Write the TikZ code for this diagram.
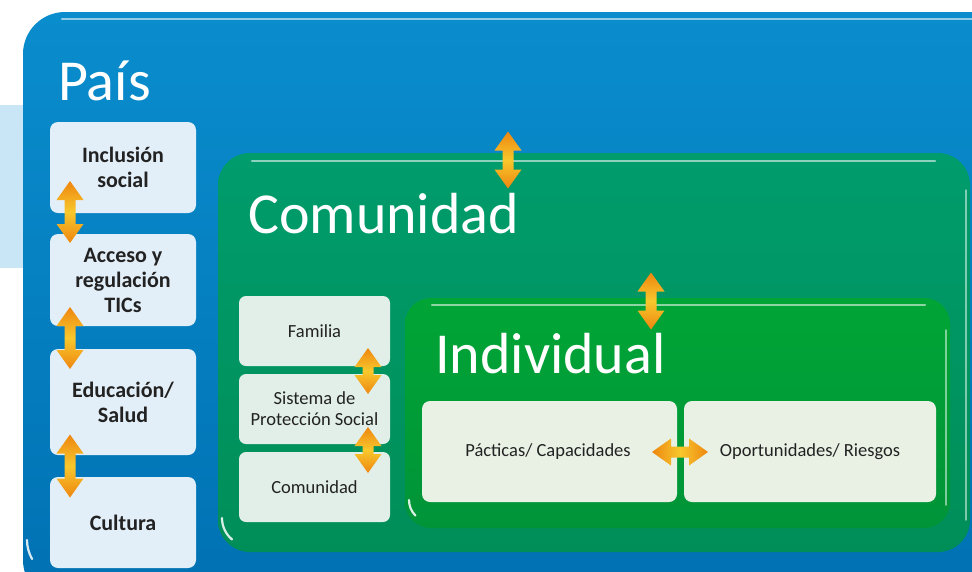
\documentclass[tikz,border=0pt]{standalone}
\usepackage{fontspec}
\setmainfont{Carlito}
\definecolor{paisT}{HTML}{0A8DCD}
\definecolor{paisB}{HTML}{0071B3}
\definecolor{comT}{HTML}{009C6C}
\definecolor{comB}{HTML}{008E58}
\definecolor{indT}{HTML}{00A536}
\definecolor{indB}{HTML}{009438}
\definecolor{lboxc}{HTML}{E3EFF8}
\definecolor{gboxc}{HTML}{E1EFE8}
\definecolor{iboxc}{HTML}{E8F1E4}
\definecolor{bgblue}{HTML}{C9E6F6}
\definecolor{ao}{HTML}{EE8610}
\definecolor{ay}{HTML}{F8C82C}
\definecolor{txt}{HTML}{222222}
\tikzset{
  boxbase/.style={inner sep=0pt, outer sep=0pt, anchor=north west},
  titletext/.style={inner sep=0pt, anchor=base west, text=white, font=\fontsize{58}{60}\selectfont},
  leftbox/.style={boxbase, fill=lboxc, rounded corners=8pt, minimum width=146pt, align=center, text=txt, font=\bfseries\fontsize{22}{25}\selectfont},
  midbox/.style={boxbase, fill=gboxc, rounded corners=7pt, minimum width=151pt, minimum height=70pt, align=center, text=txt, font=\fontsize{18.5}{21}\selectfont},
  innbox/.style={boxbase, fill=iboxc, rounded corners=8pt, minimum height=101pt},
  innertext/.style={inner sep=0pt, text=txt, font=\fontsize{18.5}{21}\selectfont},
  gloss/.style={white, opacity=.55, line width=2.5pt, line cap=round},
  glint/.style={white, opacity=.85, line width=2.2pt, line cap=round},
  vshade/.style={top color=ao, bottom color=ao, middle color=ay},
  hshade/.style={left color=ao, right color=ao, middle color=ay},
}
\newcommand{\vdarrow}[3]{%
  \path[shift={(#1,#2)}, vshade]
  (0,-#3) -- (13.5,-#3+19) -- (5.5,-#3+19) -- (5.5,#3-19) -- (13.5,#3-19) -- (0,#3)
  -- (-13.5,#3-19) -- (-5.5,#3-19) -- (-5.5,-#3+19) -- (-13.5,-#3+19) -- cycle;}
\newcommand{\hdarrow}[3]{%
  \path[shift={(#1,#2)}, hshade]
  (-#3,0) -- (-#3+19,13.5) -- (-#3+19,5.5) -- (#3-19,5.5) -- (#3-19,13.5) -- (#3,0)
  -- (#3-19,-13.5) -- (#3-19,-5.5) -- (-#3+19,-5.5) -- (-#3+19,-13.5) -- cycle;}
\begin{document}
\begin{tikzpicture}[x=1pt,y=-1pt]
\useasboundingbox (0,0) rectangle (972,571);
\clip (0,0) rectangle (972,571);
\fill[white] (0,0) rectangle (972,571);
% light blue band behind
\fill[bgblue] (0,105) rectangle (60,268);
% Pais
\node[boxbase, top color=paisT, bottom color=paisB, rounded corners=42pt, minimum width=990pt, minimum height=590pt] (pais) at (23,12) {};
\draw[gloss] (62,19) -- (1000,19);
\draw[glint] (27,540) arc[start angle=180, end angle=150, radius=38];
\node[titletext] (paist) at (58,100) {País};
% left boxes
\node[leftbox, minimum height=91pt] (inc) at (50,122) {Inclusión\\social};
\node[leftbox, minimum height=92pt] (acc) at (50,234) {Acceso y\\regulación\\TICs};
\node[leftbox, minimum height=106pt] (edu) at (50,349) {Educación/\\Salud};
\node[leftbox, minimum height=91pt] (cul) at (50,477) {Cultura};
% Comunidad
\node[boxbase, top color=comT, bottom color=comB, rounded corners=32pt, minimum width=752pt, minimum height=399pt] (com) at (218,153) {};
\draw[gloss] (252,161) -- (935,161);
\draw[white, opacity=.5, line width=1.5pt, line cap=round] (966,190) -- (966,520);
\draw[glint] (222,518) arc[start angle=180, end angle=130, radius=28];
\node[titletext] (comt) at (248,233) {Comunidad};
% mid boxes
\node[midbox] (fam) at (239,296) {Familia};
\node[midbox] (sps) at (239,374) {Sistema de\\Protección Social};
\node[midbox] (cmb) at (239,452) {Comunidad};
% Individual
\node[boxbase, top color=indT, bottom color=indB, rounded corners=26pt, minimum width=545pt, minimum height=230pt] (ind) at (405,298) {};
\draw[gloss] (432,305) -- (925,305);
\draw[white, opacity=.5, line width=1.5pt, line cap=round] (946,330) -- (946,505);
\draw[glint] (409,500) arc[start angle=180, end angle=135, radius=22];
\node[titletext] (indt) at (435,373) {Individual};
% inner boxes
\node[innbox, minimum width=255pt] (pra) at (422,401) {};
\node[innbox, minimum width=252pt] (opo) at (684,401) {};
\node[innertext] (prat) at (548,452) {Pácticas/ Capacidades};
\node[innertext] (opot) at (810,452) {Oportunidades/ Riesgos};
% arrows
\vdarrow{70}{212}{31}
\vdarrow{70}{338}{31}
\vdarrow{70}{466}{31.5}
\vdarrow{508}{160}{28.5}
\vdarrow{651}{301}{28.5}
\vdarrow{368}{371}{23}
\vdarrow{368}{450}{23}
\hdarrow{680}{452}{28}
\end{tikzpicture}
\end{document}
